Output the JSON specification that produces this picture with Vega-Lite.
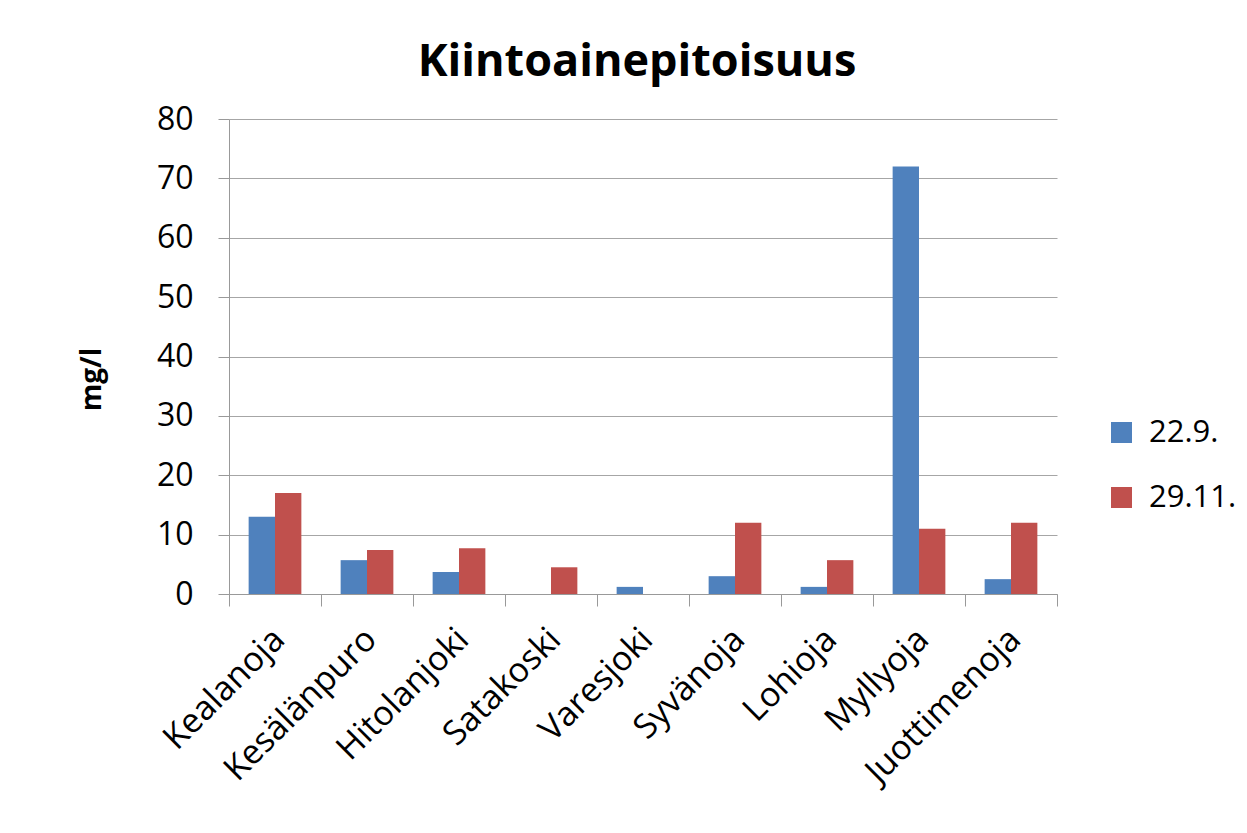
{
  "$schema": "https://vega.github.io/schema/vega-lite/v6.json",
  "width": 828,
  "height": 475,
  "autosize": {"type": "none"},
  "padding": {"left": 229, "top": 119, "right": 190, "bottom": 239},
  "background": "white",
  "title": {
    "text": "Kiintoainepitoisuus",
    "font": "Open Sans",
    "fontSize": 45,
    "fontWeight": "bold",
    "color": "black",
    "anchor": "middle",
    "offset": 18,
    "dx": -6
  },
  "data": {
    "values": [
      {"paikka": "Kealanoja", "pvm": "22.9.", "arvo": 13},
      {"paikka": "Kealanoja", "pvm": "29.11.", "arvo": 17},
      {"paikka": "Kesälänpuro", "pvm": "22.9.", "arvo": 5.7},
      {"paikka": "Kesälänpuro", "pvm": "29.11.", "arvo": 7.4},
      {"paikka": "Hitolanjoki", "pvm": "22.9.", "arvo": 3.7},
      {"paikka": "Hitolanjoki", "pvm": "29.11.", "arvo": 7.7},
      {"paikka": "Satakoski", "pvm": "29.11.", "arvo": 4.5},
      {"paikka": "Varesjoki", "pvm": "22.9.", "arvo": 1.2},
      {"paikka": "Syvänoja", "pvm": "22.9.", "arvo": 3.0},
      {"paikka": "Syvänoja", "pvm": "29.11.", "arvo": 12},
      {"paikka": "Lohioja", "pvm": "22.9.", "arvo": 1.2},
      {"paikka": "Lohioja", "pvm": "29.11.", "arvo": 5.7},
      {"paikka": "Myllyoja", "pvm": "22.9.", "arvo": 72},
      {"paikka": "Myllyoja", "pvm": "29.11.", "arvo": 11},
      {"paikka": "Juottimenoja", "pvm": "22.9.", "arvo": 2.5},
      {"paikka": "Juottimenoja", "pvm": "29.11.", "arvo": 12}
    ]
  },
  "mark": {"type": "bar"},
  "encoding": {
    "x": {
      "field": "paikka",
      "type": "nominal",
      "sort": ["Kealanoja", "Kesälänpuro", "Hitolanjoki", "Satakoski", "Varesjoki", "Syvänoja", "Lohioja", "Myllyoja", "Juottimenoja"],
      "scale": {"paddingInner": 0, "paddingOuter": 0},
      "axis": {
        "title": null,
        "labelAngle": -45,
        "labelFont": "Open Sans",
        "labelFontSize": 34,
        "labelColor": "black",
        "labelPadding": 16,
        "labelOffset": -8,
        "labelLimit": 0,
        "tickBand": "extent",
        "tickSize": 12,
        "tickColor": "#999999",
        "domainColor": "#999999",
        "grid": false
      }
    },
    "xOffset": {
      "field": "pvm",
      "type": "nominal",
      "sort": ["22.9.", "29.11."],
      "scale": {"paddingInner": 0, "paddingOuter": 0.745}
    },
    "y": {
      "field": "arvo",
      "type": "quantitative",
      "scale": {"domain": [0, 80]},
      "axis": {
        "title": "mg/l",
        "titleFont": "Open Sans",
        "titleFontSize": 28,
        "titleFontWeight": "bold",
        "titleColor": "black",
        "titleAngle": 270,
        "titleAlign": "center",
        "titleBaseline": "middle",
        "titleX": -137,
        "titleY": 260,
        "values": [0, 10, 20, 30, 40, 50, 60, 70, 80],
        "labelFont": "Open Sans",
        "labelFontSize": 32,
        "labelColor": "black",
        "labelPadding": 25,
        "tickSize": 11,
        "tickColor": "#999999",
        "domainColor": "#999999",
        "gridColor": "#a6a6a6",
        "grid": true
      }
    },
    "color": {
      "field": "pvm",
      "type": "nominal",
      "sort": ["22.9.", "29.11."],
      "scale": {"domain": ["22.9.", "29.11."], "range": ["#4f81bd", "#c0504d"]},
      "legend": {
        "title": null,
        "orient": "none",
        "legendX": 877,
        "legendY": 298,
        "symbolType": "square",
        "symbolSize": 441,
        "symbolStrokeWidth": 0,
        "labelFont": "Open Sans",
        "labelFontSize": 31,
        "labelColor": "black",
        "labelOffset": 12,
        "rowPadding": 33
      }
    }
  },
  "config": {
    "view": {"stroke": null}
  }
}
